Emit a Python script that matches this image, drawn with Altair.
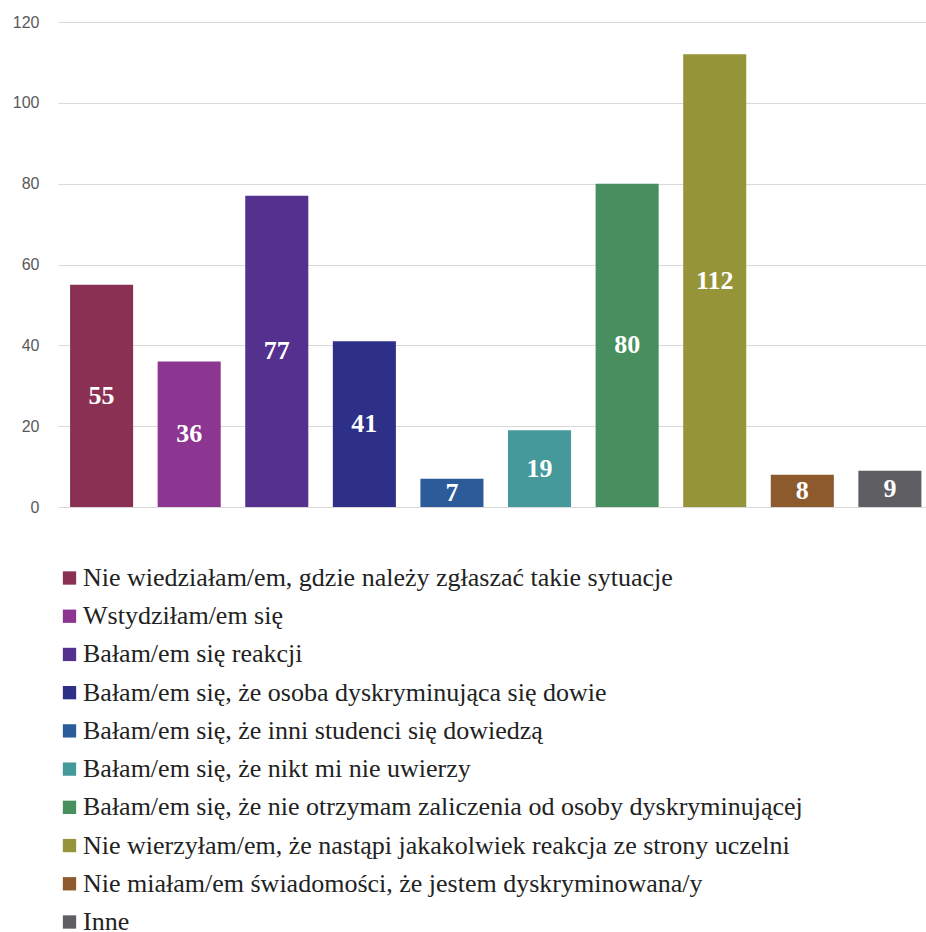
import altair as alt
import pandas as pd

categories = [
    "Nie wiedziałam/em, gdzie należy zgłaszać takie sytuacje",
    "Wstydziłam/em się",
    "Bałam/em się reakcji",
    "Bałam/em się, że osoba dyskryminująca się dowie",
    "Bałam/em się, że inni studenci się dowiedzą",
    "Bałam/em się, że nikt mi nie uwierzy",
    "Bałam/em się, że nie otrzymam zaliczenia od osoby dyskryminującej",
    "Nie wierzyłam/em, że nastąpi jakakolwiek reakcja ze strony uczelni",
    "Nie miałam/em świadomości, że jestem dyskryminowana/y",
    "Inne",
]
values = [55, 36, 77, 41, 7, 19, 80, 112, 8, 9]
colors = ["#8A3153", "#8C3591", "#54318F", "#2E2F87", "#2C5B9A",
          "#45999A", "#478F5E", "#969438", "#8C5A2D", "#5F5E63"]
y_ticks = [0, 20, 40, 60, 80, 100, 120]

df = pd.DataFrame({"cat": categories, "value": values})

color_enc = alt.Color("cat:N", sort=categories,
                      scale=alt.Scale(domain=categories, range=colors), legend=None)

x_enc = alt.X("cat:N", sort=categories, axis=None,
              scale=alt.Scale(paddingInner=0.28, paddingOuter=0.095, align=0.725))

bars = alt.Chart(df).mark_bar().encode(
    x=x_enc,
    y=alt.Y("value:Q", scale=alt.Scale(domain=[0, 120], nice=False),
            axis=alt.Axis(values=y_ticks, title=None, domain=False, ticks=False,
                          labelPadding=19, labelFont="Liberation Sans", labelFontSize=16,
                          labelColor="#595959", gridColor="#D9D9D9", gridWidth=1.2)),
    color=color_enc,
)

labels = alt.Chart(df).transform_calculate(mid="datum.value / 2").mark_text(
    font="Liberation Serif", fontWeight="bold", fontSize=26, color="white", baseline="middle"
).encode(
    x=x_enc,
    y=alt.Y("mid:Q"),
    text=alt.Text("value:Q"),
)

main = alt.layer(bars, labels)

leg_y = alt.Y("cat:N", sort=categories, axis=None,
              scale=alt.Scale(type="point", domain=categories, range=[556, 900], padding=0))

leg_sym = alt.Chart(df).mark_square(size=177, opacity=1).encode(
    x=alt.value(11.5), y=leg_y, color=color_enc,
)
leg_txt = alt.Chart(df).mark_text(
    align="left", baseline="middle", font="Liberation Serif", fontSize=26, color="#222222"
).encode(
    x=alt.value(25), y=leg_y, text="cat:N",
)
legend = alt.layer(leg_sym, leg_txt)

chart = alt.layer(main, legend).resolve_scale(y="independent").properties(
    width=868, height=485,
    background="white",
    autosize=alt.AutoSizeParams(type="none"),
    padding={"left": 58, "top": 22, "right": 0, "bottom": 425},
).configure_view(stroke=None)

chart.save("out.html", embed_options={"renderer": "svg", "actions": False})
